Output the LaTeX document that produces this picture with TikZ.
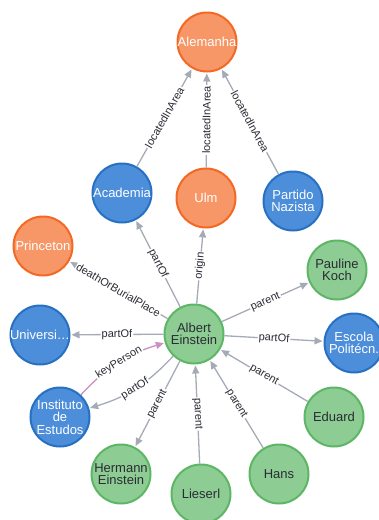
\documentclass[tikz,border=0pt]{standalone}
\usepackage{fontspec}
\setmainfont{Liberation Sans}
\usetikzlibrary{arrows.meta}
\definecolor{placefill}{RGB}{247,151,103}
\definecolor{placeline}{RGB}{243,105,36}
\definecolor{orgfill}{RGB}{76,142,218}
\definecolor{orgline}{RGB}{40,112,194}
\definecolor{personfill}{RGB}{141,204,147}
\definecolor{personline}{RGB}{93,182,101}
\definecolor{relgray}{RGB}{165,171,182}
\definecolor{relpink}{RGB}{201,144,192}
\definecolor{textdark}{RGB}{42,44,52}
\tikzset{
  entity/.style={circle, minimum size=59pt, inner sep=-2pt, line width=2pt,
    align=center, font=\fontsize{13}{12.5}\selectfont},
  place/.style={entity, fill=placefill, draw=placeline, text=white},
  org/.style={entity, fill=orgfill, draw=orgline, text=white},
  person/.style={entity, fill=personfill, draw=personline, text=textdark},
  rel/.style={draw=relgray, line width=1.3pt,
    -{Triangle[length=8pt,width=7pt]}, shorten >=1pt},
  rellabel/.style={fill=white, inner sep=1pt, sloped, midway,
    font=\fontsize{11}{11}\selectfont, text=textdark}
}

\begin{document}
\begin{tikzpicture}[x=1pt, y=-1pt]
  \useasboundingbox (0,0) rectangle (379,520);

  % entities
  \node[place]  (alemanha)  at (207,42)  {Alemanha};
  \node[org]    (academia)  at (122,193) {Academia};
  \node[place]  (ulm)       at (206,198) {Ulm};
  \node[org]    (partido)   at (293,201) {Partido\\Nazista};
  \node[place]  (princeton) at (43,246)  {Princeton};
  \node[person] (pauline)   at (337,270) {Pauline\\Koch};
  \node[person] (albert)    at (194,334) {Albert\\Einstein};
  \node[org]    (univ)      at (40,335)  {Universi…};
  \node[org]    (escola)    at (354,343) {Escola\\Politécn.};
  \node[org]    (instituto) at (60,417)  {Instituto\\de\\Estudos};
  \node[person] (eduard)    at (334,417) {Eduard};
  \node[person] (hermann)   at (121,474) {Hermann\\Einstein};
  \node[person] (lieserl)   at (201,494) {Lieserl};
  \node[person] (hans)      at (279,474) {Hans};

  % relations
  \draw[rel] (academia) -- node[rellabel] {locatedInArea} (alemanha);
  \draw[rel] (ulm) -- node[rellabel] {locatedInArea} (alemanha);
  \draw[rel] (partido) -- node[rellabel] {locatedInArea} (alemanha);
  \draw[rel] (albert) -- node[rellabel] {partOf} (academia);
  \draw[rel] (albert) -- node[rellabel] {origin} (ulm);
  \draw[rel] (albert) -- node[rellabel] {deathOrBurialPlace} (princeton);
  \draw[rel] (albert) -- node[rellabel] {parent} (pauline);
  \draw[rel] (albert) -- node[rellabel] {partOf} (univ);
  \draw[rel] (albert) -- node[rellabel] {partOf} (escola);
  \draw[rel, draw=relpink] (instituto) to[bend left=15] node[rellabel] {keyPerson} (albert);
  \draw[rel] (albert) to[bend left=15] node[rellabel] {partOf} (instituto);
  \draw[rel] (albert) -- node[rellabel] {parent} (hermann);
  \draw[rel] (lieserl) -- node[rellabel] {parent} (albert);
  \draw[rel] (hans) -- node[rellabel] {parent} (albert);
  \draw[rel] (eduard) -- node[rellabel] {parent} (albert);
\end{tikzpicture}
\end{document}
